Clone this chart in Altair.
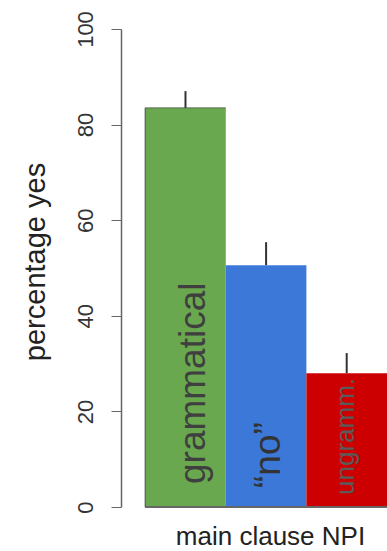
import altair as alt
import pandas as pd

# Percentage of "yes" responses for main-clause NPI sentences
conditions = ["grammatical", "\u201cno\u201d", "ungramm."]
pct_yes = [83.5, 50.6, 28.0]
err_up = [3.5, 4.8, 4.2]
group_title = "main clause NPI"
y_title = "percentage yes"
y_ticks = [0, 20, 40, 60, 80, 100]

FONT = "Liberation Sans"
bar_fill = ["#6aa84f", "#3c78d8", "#cc0000"]
EDGE = "#4a4a4a"

# in-bar label styling: font size, offsets along / across the rotated text
label_style = {
    "grammatical": dict(fontSize=37, dx=23, dy=20, color="#3f3f3f"),
    "\u201cno\u201d": dict(fontSize=37, dx=19, dy=14, color="#333333"),
    "ungramm.": dict(fontSize=26, dx=12, dy=7, color="#5a5a5a"),
}

df = pd.DataFrame({"cond": conditions, "pct": pct_yes, "err": err_up})
df["slot"] = range(len(df))
df["slot_end"] = df["slot"] + 1
df["mid"] = df["slot"] + 0.5
df["top"] = df["pct"] + df["err"]
df["zero"] = 0

x_scale = alt.Scale(domain=[-0.3, 3.0], nice=False, zero=False)
y_scale = alt.Scale(domain=[0, 100], nice=False)

x_axis = alt.Axis(
    title=group_title, domain=False, ticks=False, labels=False, grid=False,
    titleFont=FONT, titleFontSize=26, titleFontWeight="normal", titleColor="#222222",
    titleX=149, titleY=37, titleAlign="center", titleBaseline="alphabetic",
)
y_axis = alt.Axis(
    values=y_ticks, title=y_title, grid=False,
    tickSize=10, tickColor="#666666", tickWidth=1,
    domainColor="#666666", domainWidth=1.5,
    labelAngle=270, labelAlign="center", labelBaseline="alphabetic",
    labelPadding=19, labelFont=FONT, labelFontSize=22, labelColor="#333333",
    labelFlush=False, labelOverlap=False,
    titleFont=FONT, titleFontSize=29, titleFontWeight="normal", titleColor="#222222",
    titleAngle=270, titleAlign="center", titleBaseline="middle",
    titleX=-86, titleY=232.5,
)

base = alt.Chart(df)

bars = base.mark_rect().encode(
    x=alt.X("slot:Q", scale=x_scale, axis=x_axis),
    x2="slot_end:Q",
    y=alt.Y("pct:Q", scale=y_scale, axis=y_axis),
    y2="zero:Q",
    fill=alt.Fill("cond:N", scale=alt.Scale(domain=conditions, range=bar_fill), legend=None),
)

# thin outline on the left and top of the first bar
first = base.transform_filter(alt.datum.slot == 0)
edge_left = first.mark_rule(color=EDGE, strokeWidth=1).encode(
    x="slot:Q", y="pct:Q", y2="zero:Q"
)
edge_top = first.mark_rule(color=EDGE, strokeWidth=1, opacity=0.7).encode(
    x="slot:Q", x2="slot_end:Q", y="pct:Q"
)

errors = base.mark_rule(color="#333333", strokeWidth=2).encode(
    x="mid:Q", y="pct:Q", y2="top:Q"
)

baseline = alt.Chart(df).mark_rule(color="#666666", strokeWidth=1.5).encode(
    x=alt.datum(0), x2=alt.datum(3), y=alt.datum(0)
)

labels = []
for name in conditions:
    st = label_style[name]
    labels.append(
        base.transform_filter(alt.datum.cond == name)
        .mark_text(angle=270, align="left", baseline="alphabetic", font=FONT, **st)
        .encode(x="mid:Q", y="zero:Q", text="cond:N")
    )

chart = alt.layer(bars, edge_left, edge_top, errors, baseline, *labels).properties(
    width=266,
    height=478,
    autosize=alt.AutoSizeParams(type="none"),
    padding={"left": 121, "top": 29, "right": 0, "bottom": 44},
    background="white",
).configure_view(stroke=None)

chart.save("out.html", embed_options={"renderer": "svg", "actions": False})
